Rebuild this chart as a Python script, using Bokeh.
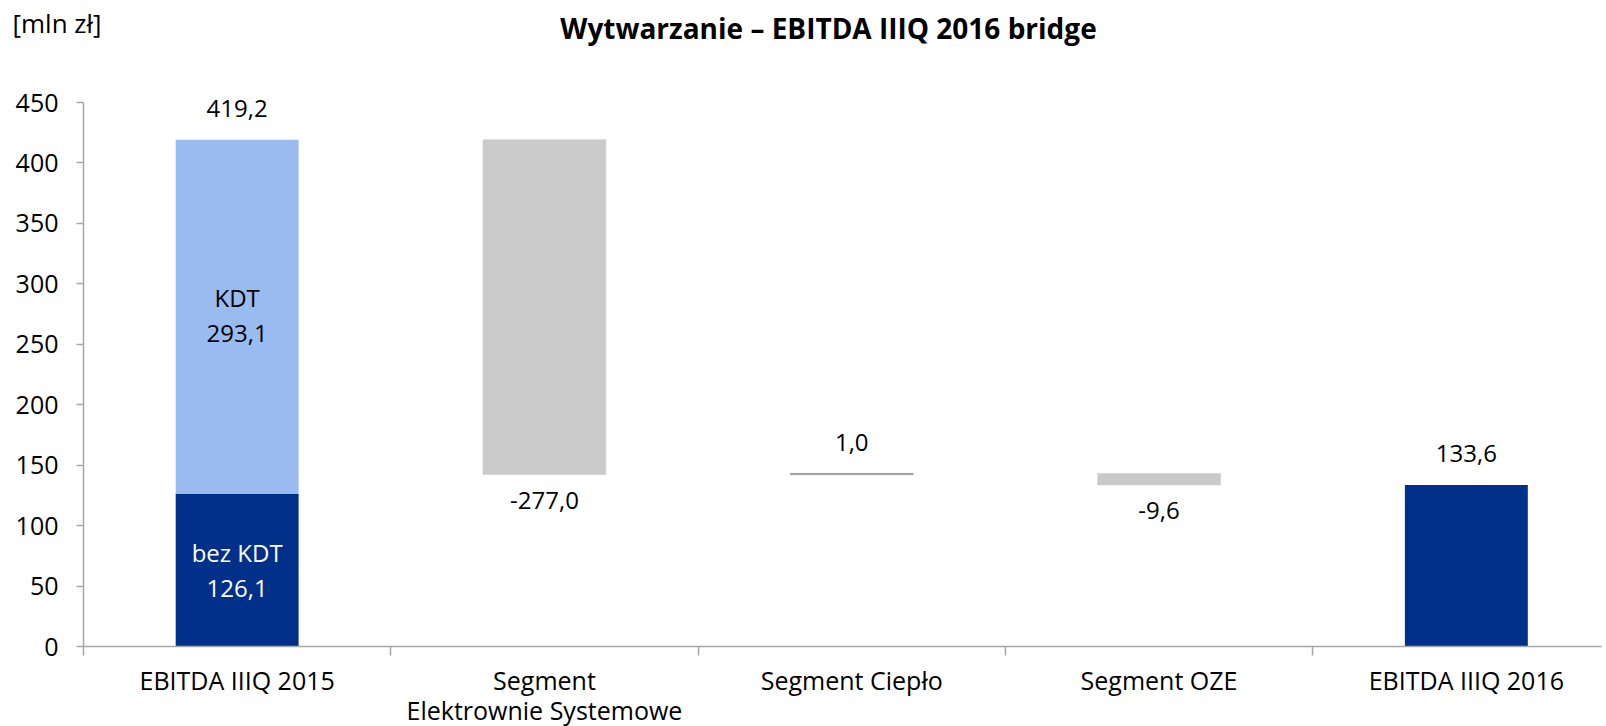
from bokeh.plotting import figure
from bokeh.models import FixedTicker, Range1d, ColumnDataSource
from bokeh.core.properties import value
from bokeh.embed import file_html
from bokeh.resources import INLINE

# ---------------- data ----------------
categories = ["EBITDA IIIQ 2015", "Segment\nElektrownie Systemowe", "Segment Ciepło",
              "Segment OZE", "EBITDA IIIQ 2016"]
bez_kdt_2015 = 126.1
kdt_2015 = 293.1
segment_deltas = [-277.0, 1.0, -9.6]
ebitda_2016 = 133.6
y_ticks = [0, 50, 100, 150, 200, 250, 300, 350, 400, 450]
y_axis_max = 450
title_text = "Wytwarzanie – EBITDA IIIQ 2016 bridge"
unit_text = "[mln zł]"

# ---------------- style / layout ----------------
FONT = "Open Sans"
NAVY = "#00308A"
LIGHT = "#99BBF0"
GRAY = "#C9CAC9"
DARKGRAY = "#7F7F7F"
AXIS = "#A6A6A6"
FS = "24px"
FS_AX = "25px"
BAR_W = 0.4

W, H = 1606, 726
AX_LEFT_PX, AX_TOP_PX, AX_RIGHT_PX = 83, 102, 1601   # plot area in page pixels
PX_X = 307.3                 # px per category
PX_Y = 544 / 450.0           # px per mln zł
X0 = -0.5 - AX_LEFT_PX / PX_X


def px_x(px):
    return X0 + px / PX_X


def px_y(py):
    return y_axis_max + (AX_TOP_PX - py) / PX_Y


def fmt(v):
    return f"{v:.1f}".replace(".", ",")


xs = list(range(len(categories)))
total_2015 = bez_kdt_2015 + kdt_2015

p = figure(width=W, height=H, output_backend="svg", toolbar_location=None,
           x_range=Range1d(px_x(0), px_x(W)), y_range=Range1d(px_y(H), px_y(0)),
           min_border_left=0, min_border_top=0, min_border_bottom=0, min_border_right=0)
p.outline_line_color = None
p.xgrid.visible = False
p.ygrid.visible = False
p.background_fill_color = "white"
p.border_fill_color = "white"

# first stacked bar
p.vbar(x=[xs[0]], bottom=[0], top=[bez_kdt_2015], width=BAR_W,
       fill_color=NAVY, line_color=None)
p.vbar(x=[xs[0]], bottom=[bez_kdt_2015], top=[total_2015], width=BAR_W,
       fill_color=LIGHT, line_color=None)

# waterfall deltas
run = total_2015
d_x, d_bot, d_top, d_col = [], [], [], []
for i, d in enumerate(segment_deltas):
    new = run + d
    d_x.append(xs[i + 1])
    d_bot.append(min(run, new))
    d_top.append(max(run, new))
    d_col.append(GRAY if d < 0 else DARKGRAY)
    run = new
src = ColumnDataSource(dict(x=d_x, bottom=d_bot, top=d_top, color=d_col))
p.vbar(x="x", bottom="bottom", top="top", width=BAR_W, fill_color="color",
       line_color="color", line_width=0.5, source=src)

# final bar
p.vbar(x=[xs[4]], bottom=[0], top=[ebitda_2016], width=BAR_W,
       fill_color=NAVY, line_color=None)

common = dict(text_font=value(FONT), text_font_size=FS, text_align="center")

# labels above
above_x = [xs[0]] + [d_x[i] for i, d in enumerate(segment_deltas) if d >= 0] + [xs[4]]
above_y = [total_2015] + [d_top[i] for i, d in enumerate(segment_deltas) if d >= 0] + [ebitda_2016]
above_t = [fmt(total_2015)] + [fmt(d) for d in segment_deltas if d >= 0] + [fmt(ebitda_2016)]
p.text(x=above_x, y=above_y, text=above_t, y_offset=-31, text_color="black",
       text_baseline="middle", **common)

# labels below negative deltas
below_x = [d_x[i] for i, d in enumerate(segment_deltas) if d < 0]
below_y = [d_bot[i] for i, d in enumerate(segment_deltas) if d < 0]
below_t = [fmt(d) for d in segment_deltas if d < 0]
p.text(x=below_x, y=below_y, text=below_t, y_offset=26, text_color="black",
       text_baseline="middle", **common)

# labels inside stacked bar
p.text(x=[xs[0]], y=[bez_kdt_2015 + kdt_2015 / 2], text=["KDT\n" + fmt(kdt_2015)],
       text_color="black", text_line_height=1.07, text_baseline="middle", y_offset=-2,
       **common)
p.text(x=[xs[0]], y=[bez_kdt_2015 / 2], text=["bez KDT\n" + fmt(bez_kdt_2015)],
       text_color="white", text_line_height=1.07, text_baseline="middle", **common)

# category labels under the axis
p.text(x=xs, y=[0] * len(xs), text=categories, y_offset=16, text_color="black",
       text_baseline="top", text_line_height=0.9, text_font=value(FONT),
       text_font_size=FS_AX, text_align="center")

# category axis: line and boundary ticks
bounds = [x - 0.5 for x in xs] + [xs[-1] + 0.5]
xax = p.xaxis[0]
xax.fixed_location = 0
xax.bounds = (bounds[0], px_x(AX_RIGHT_PX))
xax.ticker = FixedTicker(ticks=bounds)
xax.axis_line_color = AXIS
xax.axis_line_width = 1.5
xax.major_tick_line_color = AXIS
xax.major_tick_line_width = 1.5
xax.major_tick_out = 9
xax.major_tick_in = 0
xax.minor_tick_line_color = None
xax.major_label_text_alpha = 0
xax.major_label_text_font_size = "1px"

# value axis
yax = p.yaxis[0]
yax.fixed_location = bounds[0]
yax.ticker = FixedTicker(ticks=y_ticks)
yax.bounds = (0, y_axis_max)
yax.axis_line_color = AXIS
yax.axis_line_width = 1.5
yax.major_tick_line_color = AXIS
yax.major_tick_line_width = 1.5
yax.major_tick_out = 7
yax.major_tick_in = 0
yax.minor_tick_line_color = None
yax.major_label_text_font = FONT
yax.major_label_text_font_size = FS_AX
yax.major_label_text_color = "black"
yax.major_label_standoff = 18

# title and unit
p.text(x=[px_x(828)], y=[px_y(27)], text=[title_text], text_font=value(FONT),
       text_font_size="28px", text_font_style="bold", text_align="center",
       text_baseline="middle", text_color="black")
p.text(x=[px_x(12)], y=[px_y(22)], text=[unit_text], text_font=value(FONT),
       text_font_size="26px", text_align="left", text_baseline="middle",
       text_color="black")

open("out.html", "w").write(file_html(p, INLINE))
